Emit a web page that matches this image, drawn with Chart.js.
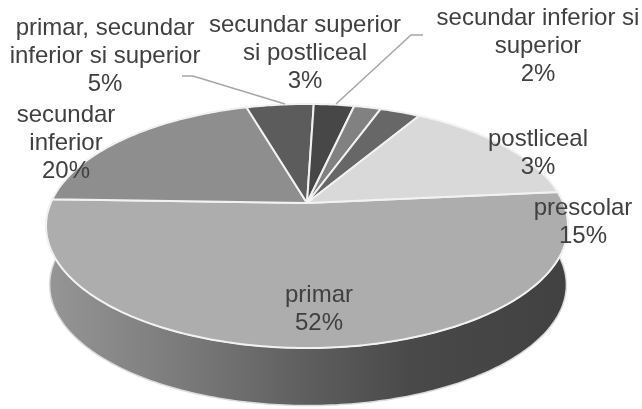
<!DOCTYPE html>
<html>
<head>
    <title>Pie 3D</title>
    <style>
        body { margin: 0; background: #ffffff; }
        canvas { display: block; }
    </style>
    <script src="https://cdnjs.cloudflare.com/ajax/libs/Chart.js/4.4.1/chart.umd.min.js"></script>
</head>
<body>
    <canvas id="pie" width="642" height="409"></canvas>
    <script>
        // values in drawing order, clockwise from the right edge of the pie
        const categories = ['primar', 'secundar inferior', 'primar, secundar inferior si superior',
            'secundar superior si postliceal', 'secundar inferior si superior', 'postliceal', 'prescolar'];
        const values = [52, 20, 5, 3, 2, 3, 15];
        const sliceColors = ['#adadad', '#8e8e8e', '#5c5c5c', '#474747', '#818181', '#676767', '#d9d9d9'];

        // labels sit where the reference has them, one entry per text block
        const labelLines = [
            ['primar', '52%'],
            ['secundar', 'inferior', '20%'],
            ['primar, secundar', 'inferior si superior', '5%'],
            ['secundar superior', 'si postliceal', '3%'],
            ['secundar inferior si', 'superior', '2%'],
            ['postliceal', '3%'],
            ['prescolar', '15%']
        ];
        const labelAnchors = [[319, 295], [66, 115], [105, 28], [305, 25], [538, 18], [538, 139], [583, 208]];
        const leaderLines = [
            [[182, 76], [193, 76], [285, 104]],
            [[423, 35], [411, 35], [336, 104]]
        ];

        // tilted disc: perspective projection of the unit circle
        const disc = { cx: 307, cy: 203, rx: 256.3, ry: 117.7, p: 0.1885, depth: 59, shrink: 0.99 };

        function project(a, drop, scale) {
            const d = 1 - disc.p * Math.sin(a);
            return [
                disc.cx + (drop ? 1 : 0) + scale * disc.rx * Math.cos(a) / d,
                disc.cy + drop + scale * disc.ry * Math.sin(a) / d
            ];
        }

        function rimTo(ctx, from, to, drop, scale) {
            const steps = Math.max(2, Math.ceil(Math.abs(to - from) * 60));
            for (let i = 0; i <= steps; i++) {
                const p = project(from + (to - from) * i / steps, drop, scale);
                ctx.lineTo(p[0], p[1]);
            }
        }

        // arcs keep the angles chart.js computes, they are only drawn tilted
        Chart.ArcElement.prototype.draw = function (ctx) {
            ctx.save();
            ctx.beginPath();
            ctx.moveTo(disc.cx, disc.cy);
            rimTo(ctx, this.startAngle, this.endAngle, 0, 1);
            ctx.closePath();
            ctx.fillStyle = this.options.backgroundColor;
            ctx.fill();
            ctx.lineJoin = 'round';
            ctx.lineWidth = this.options.borderWidth;
            ctx.strokeStyle = this.options.borderColor;
            ctx.stroke();
            ctx.restore();
        };

        const wallPlugin = {
            id: 'wall',
            beforeDatasetsDraw(chart) {
                const ctx = chart.ctx;
                const big = chart.getDatasetMeta(0).data[0];
                const grad = ctx.createLinearGradient(47, 0, 568, 0);
                grad.addColorStop(0, '#969696');
                grad.addColorStop(0.3, '#767676');
                grad.addColorStop(0.5, '#5e5e5e');
                grad.addColorStop(0.7, '#494949');
                grad.addColorStop(1, '#414141');
                ctx.save();
                ctx.beginPath();
                rimTo(ctx, big.startAngle, big.endAngle, disc.depth, disc.shrink);
                rimTo(ctx, big.endAngle, big.startAngle, 0, 1);
                ctx.closePath();
                ctx.fillStyle = grad;
                ctx.fill();
                ctx.lineWidth = 1.5;
                ctx.strokeStyle = '#dcdcdc';
                ctx.stroke();
                ctx.restore();
            }
        };

        const labelPlugin = {
            id: 'labels',
            afterDraw(chart) {
                const ctx = chart.ctx;
                ctx.save();
                ctx.lineWidth = 1.5;
                ctx.strokeStyle = '#a6a6a6';
                leaderLines.forEach(function (pts) {
                    ctx.beginPath();
                    pts.forEach(function (p, i) {
                        if (i === 0) ctx.moveTo(p[0], p[1]); else ctx.lineTo(p[0], p[1]);
                    });
                    ctx.stroke();
                });
                ctx.fillStyle = '#404040';
                ctx.font = '24px "Liberation Sans", Arial, sans-serif';
                ctx.textAlign = 'center';
                ctx.textBaseline = 'middle';
                labelLines.forEach(function (lines, i) {
                    lines.forEach(function (line, j) {
                        ctx.fillText(line, labelAnchors[i][0], labelAnchors[i][1] + j * 28);
                    });
                });
                ctx.restore();
            }
        };

        new Chart(document.getElementById('pie'), {
            type: 'pie',
            data: {
                labels: categories,
                datasets: [{
                    data: values,
                    backgroundColor: sliceColors,
                    borderColor: '#f2f2f2',
                    borderWidth: 2
                }]
            },
            options: {
                responsive: false,
                animation: false,
                rotation: 84.6,
                plugins: {
                    legend: { display: false },
                    tooltip: { enabled: false }
                }
            },
            plugins: [wallPlugin, labelPlugin]
        });
    </script>
</body>
</html>
